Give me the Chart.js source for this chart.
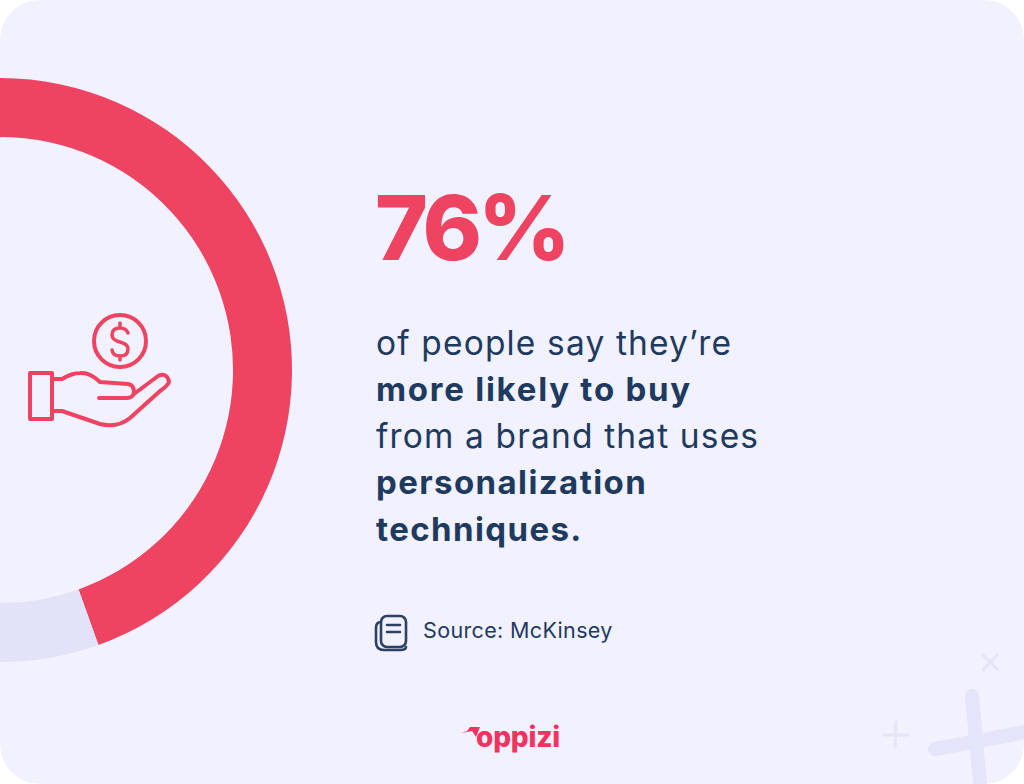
<!DOCTYPE html>
<html>
<head>
<meta charset="utf-8">
<title>76% personalization</title>
<script src="https://cdn.jsdelivr.net/npm/chart.js@4"></script>
<style>
  html, body { margin: 0; padding: 0; background: #fff; }
  #card { position: absolute; left: 0; top: 0; width: 1024px; height: 784px; background: #f1f1ff; border-radius: 40px; overflow: hidden; font-family: Inter, sans-serif; color: #1f3a5f; }
  #chartBox { position: absolute; left: -292px; top: 78px; width: 584px; height: 584px; }
  #big { position: absolute; left: 375px; top: 173px; font: 800 90px/110px Inter, sans-serif; color: #ee4461; letter-spacing: -4px; }
  #copy { position: absolute; left: 376px; top: 319.5px; font-size: 33.5px; line-height: 46.5px; white-space: nowrap; font-weight: 400; letter-spacing: 1.15px; }
  #copy b { font-weight: 700; font-size: 33px; letter-spacing: 1.4px; }
  #copy b.wide { letter-spacing: 1.75px; }
  #source { position: absolute; left: 423px; top: 616px; font-size: 21.5px; line-height: 28px; font-weight: 400; letter-spacing: 0.35px; }
  #logo { position: absolute; left: 476px; top: 719px; font: 800 28px/36px Inter, sans-serif; color: #f0335f; letter-spacing: -0.2px; }
  svg { position: absolute; left: 0; top: 0; }
</style>
</head>
<body>
<div id="card">
  <svg width="1024" height="784" fill="none" stroke-linecap="round" stroke-linejoin="round">
    <g stroke="#e4e4fb">
      <path d="M972 696 L980 784 M935 749 L1030 731" stroke-width="14"/>
      <path d="M896 722 L895 747 M884 735 L908 735" stroke-width="3"/>
      <path d="M983 655 L997 669 M997 655 L983 670" stroke-width="3"/>
    </g>
    <g stroke="#ee4461" stroke-width="4">
      <circle cx="120" cy="341" r="26"/>
      <path d="M128 333 Q126 328 120 328 Q112 328 112 335 Q112 340 120 342 Q128 344 128 349 Q128 356 120 356 Q113 356 112 350 M120 323 L120 328 M120 356 L120 360" stroke-width="3.5"/>
      <rect x="30" y="373" width="22" height="46"/>
      <path d="M52 379 L62 379 Q72 373 80 373 Q90 372 100 382 L128 384 Q134 385 134 392 Q133 398 127 398 L99 398"/>
      <path d="M134 394 L158 376 Q166 372 169 381 Q169 385 160 391 L130 418 Q118 428 100 424 L62 411 L52 411"/>
    </g>
    <g stroke="#2c4265" stroke-width="2.6">
      <rect x="381" y="616" width="25" height="31" rx="6"/>
      <path d="M381 622 Q376 622 376 628 L376 642 Q376 650 384 650 L400 650 Q406 650 406 647"/>
      <path d="M387 625 L400 625 M387 632 L400 632"/>
    </g>
    <path d="M461 733 L472 731 L476 737 L480 727 L470 727 L467 731 Z" fill="#f0335f"/>
  </svg>
  <div id="chartBox"><canvas id="ringChart" width="584" height="584"></canvas></div>
  <div id="big">76%</div>
  <div id="copy">of people say they’re<br><b class="wide">more likely to buy</b><br>from a brand that uses<br><b>personalization</b><br><b>techniques.</b></div>
  <div id="source">Source: McKinsey</div>
  <div id="logo">oppizi</div>
</div>
<script>
const categories = ['More likely to buy', 'Other'];
const seriesValues = [76, 24];
const sliceColors = ['#ee4461', '#e2e2f8'];

new Chart(document.getElementById('ringChart').getContext('2d'), {
  type: 'doughnut',
  data: {
    labels: categories,
    datasets: [{
      data: seriesValues,
      backgroundColor: sliceColors,
      borderWidth: 0,
      hoverOffset: 0
    }]
  },
  options: {
    responsive: false,
    animation: false,
    cutout: '79.8%',
    rotation: -113.3, // red ends at the lower right, the rest is off the card
    layout: { padding: 0 },
    plugins: { legend: { display: false }, tooltip: { enabled: false } }
  }
});
</script>
</body>
</html>
